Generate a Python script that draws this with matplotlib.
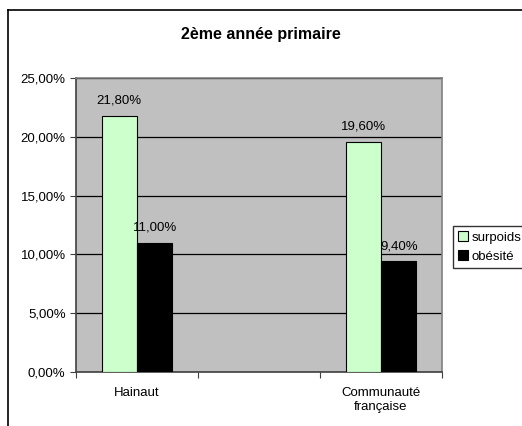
import matplotlib
matplotlib.use('Agg')
import matplotlib.pyplot as plt
from matplotlib.lines import Line2D
import numpy as np

plt.rcParams['font.family'] = ['Liberation Sans', 'DejaVu Sans']

categories = ['Hainaut', '', 'Communauté\nfrançaise']
surpoids = [21.8, None, 19.6]
obesite = [11.0, None, 9.4]
yticks = [0, 5, 10, 15, 20, 25]


def fmt(v):
    return ('%.2f%%' % v).replace('.', ',')


fig = plt.figure(figsize=(5.22, 4.26), dpi=100)
ax = fig.add_axes([76 / 522, 1 - 372 / 426, 366 / 522, 294 / 426])
ax.set_facecolor('#c0c0c0')

x = np.arange(len(categories))
w = 0.29
for i in range(len(categories)):
    if surpoids[i] is None:
        continue
    ax.bar(x[i] - w / 2, surpoids[i], w, color='#ccffcc', edgecolor='black',
           linewidth=0.8, zorder=3, label='surpoids' if i == 0 else None)
    ax.bar(x[i] + w / 2, obesite[i], w, color='black', edgecolor='black',
           linewidth=0.8, zorder=3, label='obésité' if i == 0 else None)
    ax.text(x[i] - w / 2, surpoids[i] + 0.8, fmt(surpoids[i]), ha='center',
            va='bottom', fontsize=9.5)
    ax.text(x[i] + w / 2, obesite[i] + 0.8, fmt(obesite[i]), ha='center',
            va='bottom', fontsize=9.5)

ax.set_xlim(-0.5, len(categories) - 0.5)
ax.set_ylim(0, 25)
ax.set_yticks(yticks)
ax.set_yticklabels([fmt(v) for v in yticks], fontsize=9.5)
ax.yaxis.grid(True, color='black', linewidth=0.9, zorder=1)
ax.set_axisbelow(True)

ax.set_xticks(np.arange(len(categories) + 1) - 0.5)
ax.set_xticklabels([])
ax.set_xticks(x, minor=True)
ax.set_xticklabels(categories, minor=True, fontsize=9.5)
ax.tick_params(axis='x', which='minor', length=0, pad=11)
ax.tick_params(axis='both', which='major', length=4, width=0.8, color='#404040')

for s in ['top', 'right']:
    ax.spines[s].set_color('#808080')
for s in ['left', 'bottom']:
    ax.spines[s].set_color('#404040')
for s in ax.spines.values():
    s.set_linewidth(1.2)

fig.text(0.5, 1 - 34 / 426, '2ème année primaire', ha='center', va='center',
         fontsize=11.5, fontweight='bold')

ax.legend(loc='center left', bbox_to_anchor=(453 / 522, 1 - 247 / 426),
          bbox_transform=fig.transFigure, fontsize=9.5, frameon=True,
          fancybox=False, edgecolor='black', handlelength=0.7,
          handleheight=0.7, handletextpad=0.3, borderpad=0.4,
          labelspacing=0.5, borderaxespad=0)

top = 1 - 10 / 426
left = 8 / 522
fig.lines.append(Line2D([left, 1.0], [top, top], transform=fig.transFigure,
                        color='black', linewidth=1.2))
fig.lines.append(Line2D([left, left], [0, top], transform=fig.transFigure,
                        color='black', linewidth=1.2))

fig.savefig('out.png', dpi=100)
